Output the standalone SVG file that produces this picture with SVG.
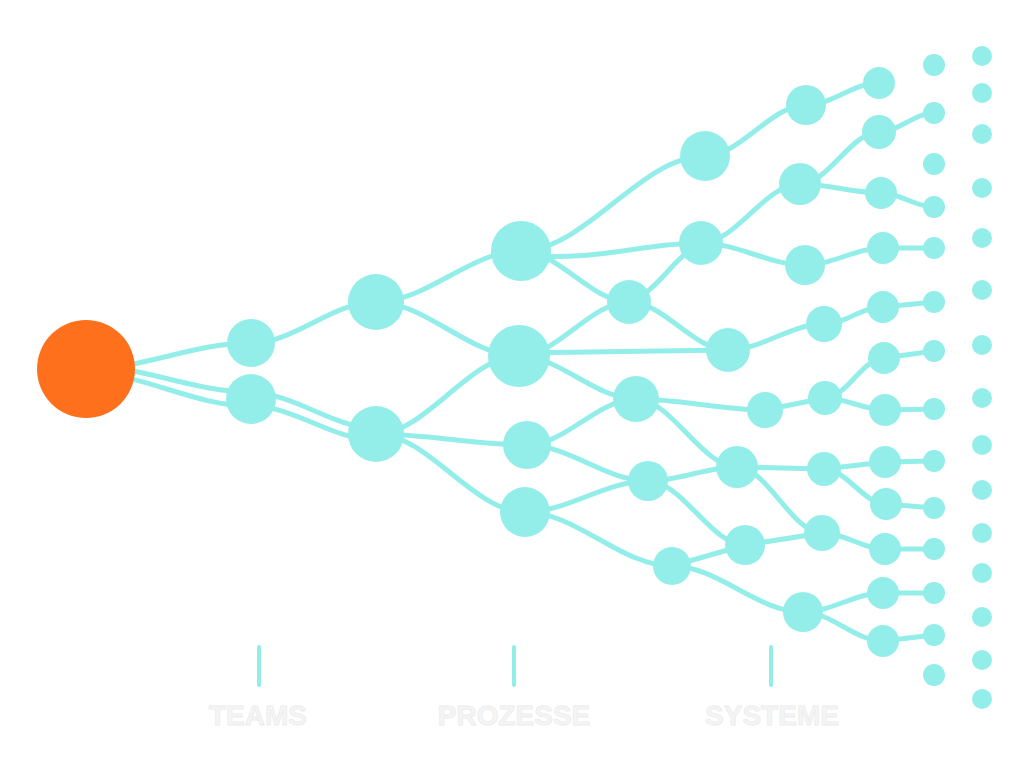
<svg xmlns="http://www.w3.org/2000/svg" width="1024" height="768" viewBox="0 0 1024 768">
<style>
.e{fill:none;stroke:#93eee9;stroke-width:5;stroke-linecap:round}
.n{fill:#93eee9}
.t{stroke:#93eee9;stroke-width:4;stroke-linecap:round}
.lbl{font-family:"Liberation Sans",Arial,sans-serif;font-weight:bold;font-size:28px;fill:#f5f5f5;stroke:#ececec;stroke-width:0.8;text-anchor:middle}
</style>
<rect width="1024" height="768" fill="#ffffff"/>
<g id="connectors">
<path class="e" d="M86,369 C144,369 193,343 251,343"/>
<path class="e" d="M86,366 C144,366 193,392 251,392"/>
<path class="e" d="M86,373 C144,373 193,406 251,406"/>
<path class="e" d="M251,343 C295,343 332,302 376,302"/>
<path class="e" d="M251,393 C295,393 332,428 376,428"/>
<path class="e" d="M251,406 C295,406 332,440 376,440"/>
<path class="e" d="M376,302 C427,302 470,251 521,251"/>
<path class="e" d="M376,302 C426,302 469,356 519,356"/>
<path class="e" d="M376,434 C426,434 469,356 519,356"/>
<path class="e" d="M376,434 C429,434 474,445 527,445"/>
<path class="e" d="M376,434 C428,434 473,512 525,512"/>
<path class="e" d="M521,251 C585,251 641,156 705,156"/>
<path class="e" d="M521,255 C600,262 640,243 701,243"/>
<path class="e" d="M521,251 C559,251 591,302 629,302"/>
<path class="e" d="M519,356 C557,356 591,302 629,302"/>
<path class="e" d="M519,353 L728,350"/>
<path class="e" d="M519,356 C560,356 595,399 636,399"/>
<path class="e" d="M527,445 C565,445 598,399 636,399"/>
<path class="e" d="M527,445 C569,445 606,481 648,481"/>
<path class="e" d="M525,512 C568,512 605,481 648,481"/>
<path class="e" d="M525,512 C576,512 621,566 672,566"/>
<path class="e" d="M705,156 C740,156 771,105 806,105"/>
<path class="e" d="M806,105 C832,105 853,83 879,83"/>
<path class="e" d="M629,302 C660,290 670,260 701,243"/>
<path class="e" d="M701,243 C736,243 765,184 800,184"/>
<path class="e" d="M701,243 C737,243 769,265 805,265"/>
<path class="e" d="M800,184 C828,184 851,132 879,132"/>
<path class="e" d="M879,132 C898,132 915,113 934,113"/>
<path class="e" d="M800,184 C828,184 853,193 881,193"/>
<path class="e" d="M881,193 C900,193 915,207 934,207"/>
<path class="e" d="M805,265 C832,265 856,248 883,248"/>
<path class="e" d="M883,248 L934,248"/>
<path class="e" d="M629,302 C664,302 693,350 728,350"/>
<path class="e" d="M728,350 C762,350 790,324 824,324"/>
<path class="e" d="M824,324 C845,324 862,307 883,307"/>
<path class="e" d="M883,307 L934,302"/>
<path class="e" d="M636,399 C681,399 720,410 765,410"/>
<path class="e" d="M765,410 L825,398"/>
<path class="e" d="M825,398 C846,398 863,358 884,358"/>
<path class="e" d="M884,358 L934,351"/>
<path class="e" d="M825,398 C846,398 864,410 885,410"/>
<path class="e" d="M885,410 L934,409"/>
<path class="e" d="M636,399 C671,399 702,467 737,467"/>
<path class="e" d="M648,481 C679,481 706,467 737,467"/>
<path class="e" d="M737,467 L824,469"/>
<path class="e" d="M824,469 L885,462"/>
<path class="e" d="M885,462 L934,461"/>
<path class="e" d="M824,469 C846,469 864,504 886,504"/>
<path class="e" d="M886,504 L934,508"/>
<path class="e" d="M737,467 C767,467 792,533 822,533"/>
<path class="e" d="M648,481 C682,481 711,545 745,545"/>
<path class="e" d="M745,545 L822,533"/>
<path class="e" d="M822,533 C844,533 863,549 885,549"/>
<path class="e" d="M885,549 L934,549"/>
<path class="e" d="M672,566 L745,545"/>
<path class="e" d="M672,566 C718,566 757,612 803,612"/>
<path class="e" d="M803,612 C831,612 855,593 883,593"/>
<path class="e" d="M883,593 L934,593"/>
<path class="e" d="M803,612 C831,612 855,641 883,641"/>
<path class="e" d="M883,641 L934,635"/>
</g>
<g id="root"><circle cx="86" cy="369" r="49" fill="#ff701c"/></g>
<g id="a1"><circle class="n" cx="251" cy="343" r="24"/></g>
<g id="a2"><circle class="n" cx="251" cy="399" r="25"/></g>
<g id="b1"><circle class="n" cx="376" cy="302" r="28"/></g>
<g id="b2"><circle class="n" cx="376" cy="434" r="28"/></g>
<g id="c1"><circle class="n" cx="521" cy="251" r="30"/></g>
<g id="c2"><circle class="n" cx="519" cy="356" r="31"/></g>
<g id="c3"><circle class="n" cx="527" cy="445" r="24"/></g>
<g id="c4"><circle class="n" cx="525" cy="512" r="25"/></g>
<g id="d1"><circle class="n" cx="705" cy="156" r="25"/></g>
<g id="d2"><circle class="n" cx="701" cy="243" r="22"/></g>
<g id="d3"><circle class="n" cx="629" cy="302" r="22"/></g>
<g id="d4"><circle class="n" cx="728" cy="350" r="22"/></g>
<g id="d5"><circle class="n" cx="636" cy="399" r="23"/></g>
<g id="d6"><circle class="n" cx="648" cy="481" r="20"/></g>
<g id="d7"><circle class="n" cx="737" cy="467" r="21"/></g>
<g id="d8"><circle class="n" cx="745" cy="545" r="20"/></g>
<g id="d9"><circle class="n" cx="672" cy="566" r="19"/></g>
<g id="e1"><circle class="n" cx="806" cy="105" r="20"/></g>
<g id="e2"><circle class="n" cx="800" cy="184" r="21"/></g>
<g id="e3"><circle class="n" cx="805" cy="265" r="20"/></g>
<g id="e4"><circle class="n" cx="824" cy="324" r="18"/></g>
<g id="e5"><circle class="n" cx="765" cy="410" r="18"/></g>
<g id="e6"><circle class="n" cx="825" cy="398" r="17"/></g>
<g id="e7"><circle class="n" cx="824" cy="469" r="17"/></g>
<g id="e8"><circle class="n" cx="822" cy="533" r="18"/></g>
<g id="e9"><circle class="n" cx="803" cy="612" r="20"/></g>
<g id="f1"><circle class="n" cx="879" cy="83" r="16"/></g>
<g id="f2"><circle class="n" cx="879" cy="132" r="17"/></g>
<g id="f3"><circle class="n" cx="881" cy="193" r="16"/></g>
<g id="f4"><circle class="n" cx="883" cy="248" r="16"/></g>
<g id="f5"><circle class="n" cx="883" cy="307" r="16"/></g>
<g id="f6"><circle class="n" cx="884" cy="358" r="16"/></g>
<g id="f7"><circle class="n" cx="885" cy="410" r="16"/></g>
<g id="f8"><circle class="n" cx="885" cy="462" r="16"/></g>
<g id="f9"><circle class="n" cx="886" cy="504" r="16"/></g>
<g id="f10"><circle class="n" cx="885" cy="549" r="16"/></g>
<g id="f11"><circle class="n" cx="883" cy="593" r="16"/></g>
<g id="f12"><circle class="n" cx="883" cy="641" r="16"/></g>
<g id="col1">
<circle class="n" cx="934" cy="65" r="11"/>
<circle class="n" cx="934" cy="113" r="11"/>
<circle class="n" cx="934" cy="164" r="11"/>
<circle class="n" cx="934" cy="207" r="11"/>
<circle class="n" cx="934" cy="248" r="11"/>
<circle class="n" cx="934" cy="302" r="11"/>
<circle class="n" cx="934" cy="351" r="11"/>
<circle class="n" cx="934" cy="409" r="11"/>
<circle class="n" cx="934" cy="461" r="11"/>
<circle class="n" cx="934" cy="508" r="11"/>
<circle class="n" cx="934" cy="549" r="11"/>
<circle class="n" cx="934" cy="593" r="11"/>
<circle class="n" cx="934" cy="635" r="11"/>
<circle class="n" cx="934" cy="675" r="11"/>
</g>
<g id="col2">
<circle class="n" cx="982" cy="56" r="10"/>
<circle class="n" cx="982" cy="93" r="10"/>
<circle class="n" cx="982" cy="134" r="10"/>
<circle class="n" cx="982" cy="188" r="10"/>
<circle class="n" cx="982" cy="238" r="10"/>
<circle class="n" cx="982" cy="290" r="10"/>
<circle class="n" cx="982" cy="345" r="10"/>
<circle class="n" cx="982" cy="398" r="10"/>
<circle class="n" cx="982" cy="445" r="10"/>
<circle class="n" cx="982" cy="490" r="10"/>
<circle class="n" cx="982" cy="533" r="10"/>
<circle class="n" cx="982" cy="573" r="10"/>
<circle class="n" cx="982" cy="617" r="10"/>
<circle class="n" cx="982" cy="660" r="10"/>
<circle class="n" cx="982" cy="699" r="10"/>
</g>
<g id="axis">
<line class="t" x1="259" y1="647" x2="259" y2="685"/>
<line class="t" x1="514" y1="647" x2="514" y2="685"/>
<line class="t" x1="771" y1="647" x2="771" y2="685"/>
<text class="lbl" x="258" y="725">TEAMS</text>
<text class="lbl" x="514" y="725">PROZESSE</text>
<text class="lbl" x="772" y="725">SYSTEME</text>
</g>
</svg>
